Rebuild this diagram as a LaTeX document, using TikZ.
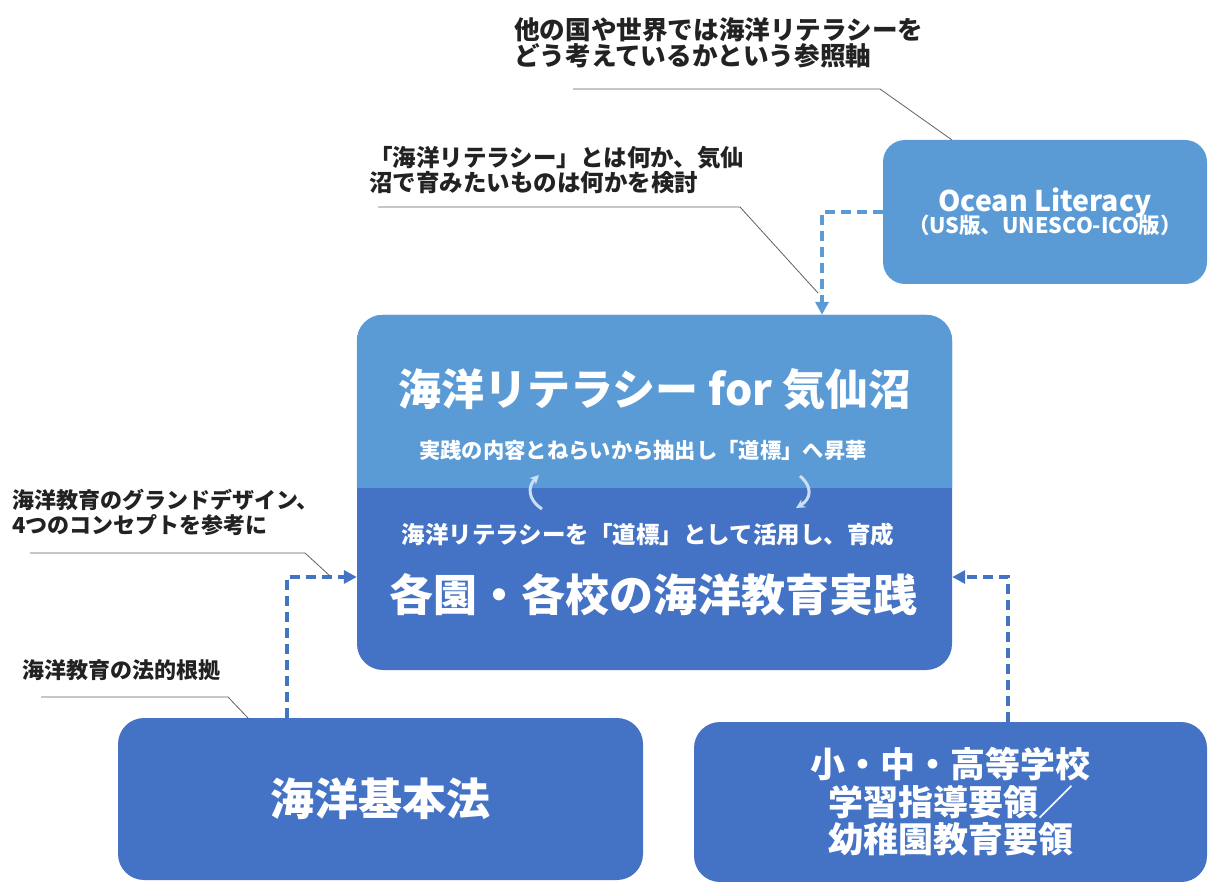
\documentclass[tikz,border=0pt]{standalone}
\usepackage{fontspec}
\setmainfont{Noto Sans CJK JP}
\usetikzlibrary{arrows.meta}
\definecolor{lb}{HTML}{5B9BD5}
\definecolor{db}{HTML}{4472C4}
\definecolor{pale}{HTML}{C9DFF3}
\definecolor{ink}{HTML}{222222}
\newcommand{\setfs}[2]{\fontsize{#1}{#2}\selectfont}
\begin{document}
\begin{tikzpicture}[x=1pt,y=-1pt,
  box/.style={rounded corners=26pt, inner sep=0pt, text=white, align=center},
  ann/.style={text=ink, align=left, anchor=west, inner sep=0pt},
  wtxt/.style={text=white, inner sep=0pt},
  leader/.style={draw=gray!75!black, line width=0.8pt},
  darr/.style={line width=3.4pt, dash pattern=on 10pt off 6pt, -{Triangle[length=13pt,width=13pt]}},
  curv/.style={draw=pale, line width=3pt, -{Stealth[length=9pt,width=9pt]}}]
\useasboundingbox (0,0) rectangle (1209,882);

% boxes
\node[box, fill=lb, minimum width=324pt, minimum height=144pt, rounded corners=22pt, font=\bfseries] (ol) at (1045,212)
  {\setfs{28.5}{32}Ocean Literacy\\[-4pt]\setfs{21.5}{24}（US版、UNESCO-ICO版）};
\node[box, fill=db, minimum width=595pt, minimum height=355pt] (main) at (654.5,492.5) {};
\begin{scope}
  \clip (300,300) rectangle (1000,487);
  \fill[lb, rounded corners=26pt] (main.north west) rectangle (main.south east);
\end{scope}
\node[box, fill=db, minimum width=525pt, minimum height=162pt, font=\bfseries\setfs{44}{48}] (bl) at (380.5,799) {海洋基本法};
\node[box, fill=db, minimum width=513pt, minimum height=160pt, font=\bfseries\setfs{35}{37.5}] (br) at (950.5,802)
  {小・中・高等学校\\学習指導要領／\\幼稚園教育要領};

% texts in main box
\node[wtxt, font=\bfseries\setfs{43}{46}] (t1) at (655,389) {海洋リテラシー for 気仙沼};
\node[wtxt, font=\bfseries\setfs{21.3}{24}] (t2) at (643,450) {実践の内容とねらいから抽出し「道標」へ昇華};
\node[wtxt, font=\bfseries\setfs{23.5}{26}] (t3) at (648,535) {海洋リテラシーを「道標」として活用し、育成};
\node[wtxt, font=\bfseries\setfs{44}{48}] (t4) at (653,595) {各園・各校の海洋教育実践};

% cycle arrows
\coordinate (ca1) at (542,509); \coordinate (ca2) at (539,475);
\coordinate (cb1) at (800,476); \coordinate (cb2) at (796,508);
\draw[curv] (ca1) .. controls (527,499) and (528,486) .. (ca2);
\draw[curv] (cb1) .. controls (813,487) and (811,499) .. (cb2);

% dashed connectors
\coordinate (olx) at (822,0);
\coordinate (lx) at (287,0);
\coordinate (rx) at (1008,0);
\coordinate (ly) at (0,577);
\draw[darr, lb] (ol.west) -| (main.north -| olx);
\draw[darr, db] (bl.north -| lx) |- (main.west |- ly);
\draw[darr, db] (br.north -| rx) |- (main.east |- ly);

% annotations
\node[ann, font=\bfseries\setfs{25.6}{26.5}] (a1) at (514,43) {他の国や世界では海洋リテラシーを\\どう考えているかという参照軸};
\node[ann, font=\bfseries\setfs{23.5}{24.5}] (a2) at (369,170) {「海洋リテラシー」とは何か、気仙\\沼で育みたいものは何かを検討};
\node[ann, font=\bfseries\setfs{22}{25}] (a3) at (12,512) {海洋教育のグランドデザイン、\\4つのコンセプトを参考に};
\node[ann, font=\bfseries\setfs{22}{24}] (a4) at (22,670) {海洋教育の法的根拠};

\coordinate (l1a) at (573,89); \coordinate (l1b) at (880,89); \coordinate (l1c) at (952,140);
\coordinate (l2a) at (378,207); \coordinate (l2b) at (740,207); \coordinate (l2c) at (818,293);
\coordinate (l3a) at (30,553); \coordinate (l3b) at (305,553); \coordinate (l3c) at (330,576);
\coordinate (l4a) at (41,697); \coordinate (l4b) at (228,697); \coordinate (l4c) at (248,718);
\draw[leader] (l1a) -- (l1b) -- (l1c);
\draw[leader] (l2a) -- (l2b) -- (l2c);
\draw[leader] (l3a) -- (l3b) -- (l3c);
\draw[leader] (l4a) -- (l4b) -- (l4c);
\end{tikzpicture}
\end{document}
